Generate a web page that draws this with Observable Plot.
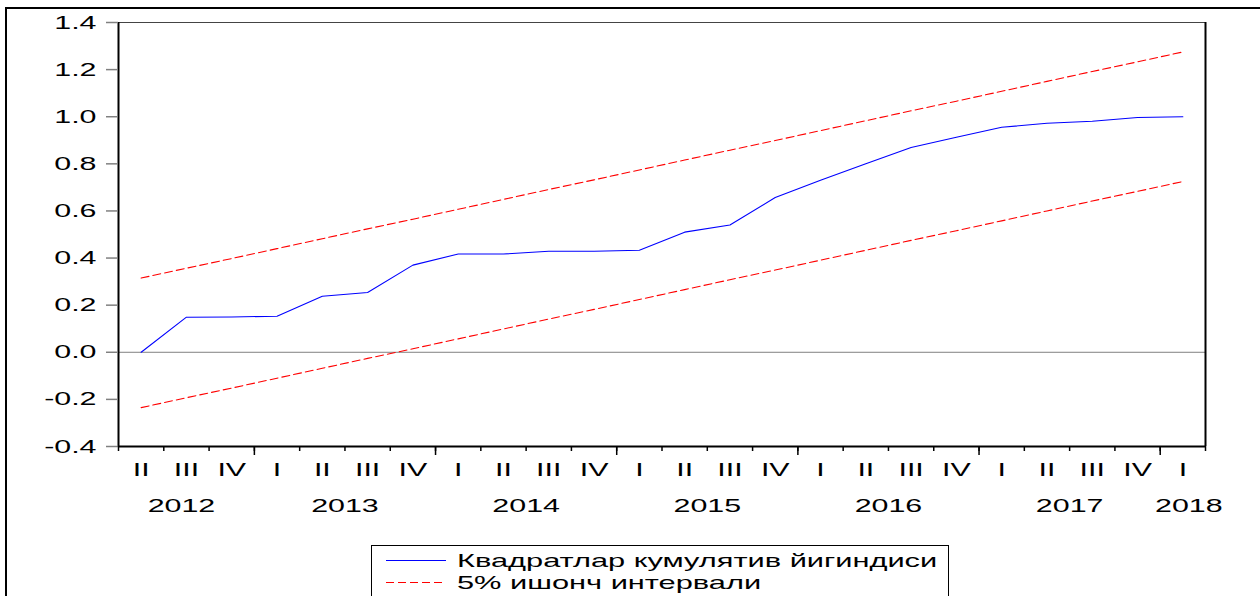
<!DOCTYPE html>
<html><head><meta charset="utf-8">
<script src="https://cdn.jsdelivr.net/npm/d3@7"></script>
<script src="https://cdn.jsdelivr.net/npm/@observablehq/plot@0.6"></script>
<style>
html,body{margin:0;padding:0;background:#fff;overflow:hidden;}
#wrap{position:relative;width:1260px;height:596px;overflow:hidden;font-family:"Liberation Sans",Arial,sans-serif;}
#chart{position:absolute;left:0;top:0;}
#border{position:absolute;left:5px;top:7px;width:1300px;height:700px;border-left:2px solid #000;border-top:2px solid #000;box-sizing:border-box;}
#legend{position:absolute;left:371px;top:545px;width:578px;height:80px;border:1px solid #000;background:#fff;box-sizing:border-box;}
.row{position:absolute;left:0;width:100%;height:22px;}
.row .sw{position:absolute;left:14px;top:10px;width:60px;height:1px;}
.row span{position:absolute;left:85px;top:0;line-height:22px;white-space:nowrap;font-size:19px;transform:scaleX(1.62);transform-origin:left center;color:#000;}
</style></head>
<body><div id="wrap"><div id="chart"></div><div id="border"></div><div id="legend"></div></div>
<script>
const quarters = ["II","III","IV","I","II","III","IV","I","II","III","IV","I","II","III","IV","I","II","III","IV","I","II","III","IV","I"];
const years = [2012,2012,2012,2013,2013,2013,2013,2014,2014,2014,2014,2015,2015,2015,2015,2016,2016,2016,2016,2017,2017,2017,2017,2018];
const cusum = [0.0,0.149,0.150,0.153,0.238,0.254,0.370,0.417,0.417,0.429,0.429,0.433,0.510,0.540,0.657,0.730,0.800,0.869,0.913,0.955,0.972,0.981,0.997,1.000];
const upper = [0.315,0.357,0.398,0.440,0.482,0.524,0.565,0.607,0.649,0.691,0.732,0.774,0.816,0.858,0.899,0.941,0.983,1.025,1.066,1.108,1.150,1.192,1.233,1.275];
const lower = [-0.235,-0.193,-0.152,-0.110,-0.068,-0.026,0.015,0.057,0.099,0.141,0.182,0.224,0.266,0.308,0.349,0.391,0.433,0.475,0.516,0.558,0.600,0.642,0.683,0.725];
const yTicks = [-0.4,-0.2,0.0,0.2,0.4,0.6,0.8,1.0,1.2,1.4];
const seriesNames = ["Квадратлар кумулятив йигиндиси","5% ишонч интервали"];

const n = quarters.length;
const xi = (d,i) => i + 0.5;
const yearList = [...new Set(years)];
const yearLabels = yearList.map(y => {
  const idx = years.map((v,i)=>v===y?i:-1).filter(i=>i>=0);
  return {year: String(y), x: d3.mean(idx) + 0.5, first: idx[0], last: idx[idx.length-1]};
});
const yearBounds = yearLabels.slice(1).map(d => d.first);
const FS = 19;
const RED = "#ff0000", BLUE = "#0000ff";

const chart = Plot.plot({
  width: 1260, height: 540,
  marginLeft: 118, marginRight: 55, marginTop: 22, marginBottom: 94,
  style: {fontFamily: "'Liberation Sans', Arial, sans-serif", fontSize: FS + "px", background: "transparent", color: "#000"},
  x: {type: "linear", domain: [0, n], axis: null, label: null},
  y: {domain: [-0.4, 1.4], axis: null, label: null},
  marks: [
    Plot.ruleY([0], {stroke: "#808080", strokeWidth: 1}),
    Plot.line(upper, {x: xi, y: d => d, stroke: RED, strokeWidth: 1.1, strokeDasharray: "8,4"}),
    Plot.line(lower, {x: xi, y: d => d, stroke: RED, strokeWidth: 1.1, strokeDasharray: "8,4"}),
    Plot.line(cusum, {x: xi, y: d => d, stroke: BLUE, strokeWidth: 1.1}),
    Plot.ruleY([1.4], {stroke: "#444", strokeWidth: 1}),
    Plot.ruleX([n], {stroke: "#000", strokeWidth: 2}),
    Plot.ruleX([0], {stroke: "#000", strokeWidth: 2}),
    Plot.ruleY([-0.4], {stroke: "#000", strokeWidth: 2}),
    Plot.axisY({ticks: yTicks, tickFormat: d => d.toFixed(1), tickSize: 12, tickPadding: 10, stroke: "#808080", fill: "#000", fontSize: FS, strokeWidth: 1.5, label: null}),
    Plot.axisX({ticks: d3.range(0, n + 1), tickSize: 5, tickFormat: () => "", stroke: "#000", strokeWidth: 1.5, label: null}),
    Plot.axisX({ticks: yearBounds, tickSize: 9, tickFormat: () => "", stroke: "#000", strokeWidth: 1.5, label: null}),
    Plot.text(quarters, {x: xi, text: d => d, frameAnchor: "bottom", lineAnchor: "middle", dy: 23, fontSize: FS, fill: "#000"}),
    Plot.text(yearLabels.slice(0,1), {x: "x", text: "year", frameAnchor: "bottom", lineAnchor: "middle", dy: 59, dx: -5, fontSize: FS, fill: "#000"}),
    Plot.text(yearLabels.slice(1,-1), {x: "x", text: "year", frameAnchor: "bottom", lineAnchor: "middle", dy: 59, fontSize: FS, fill: "#000"}),
    Plot.text(yearLabels.slice(-1), {x: "x", text: "year", frameAnchor: "bottom", lineAnchor: "middle", dy: 59, dx: 6, fontSize: FS, fill: "#000"})
  ]
});
chart.querySelectorAll("text").forEach(t => {
  const tr = t.getAttribute("transform") || "";
  t.setAttribute("transform", tr + " scale(1.6,1)");
});
document.getElementById("chart").appendChild(chart);

const legend = document.getElementById("legend");
const swatches = [
  `background:${BLUE}`,
  `background:repeating-linear-gradient(to right, ${RED} 0px, ${RED} 8px, transparent 8px, transparent 12px)`
];
seriesNames.forEach((name, k) => {
  const row = document.createElement("div");
  row.className = "row";
  row.style.top = (4 + k * 22) + "px";
  const sw = document.createElement("div");
  sw.className = "sw";
  sw.setAttribute("style", swatches[k]);
  row.appendChild(sw);
  const sp = document.createElement("span");
  sp.textContent = name;
  row.appendChild(sp);
  legend.appendChild(row);
});
</script>
</body></html>
